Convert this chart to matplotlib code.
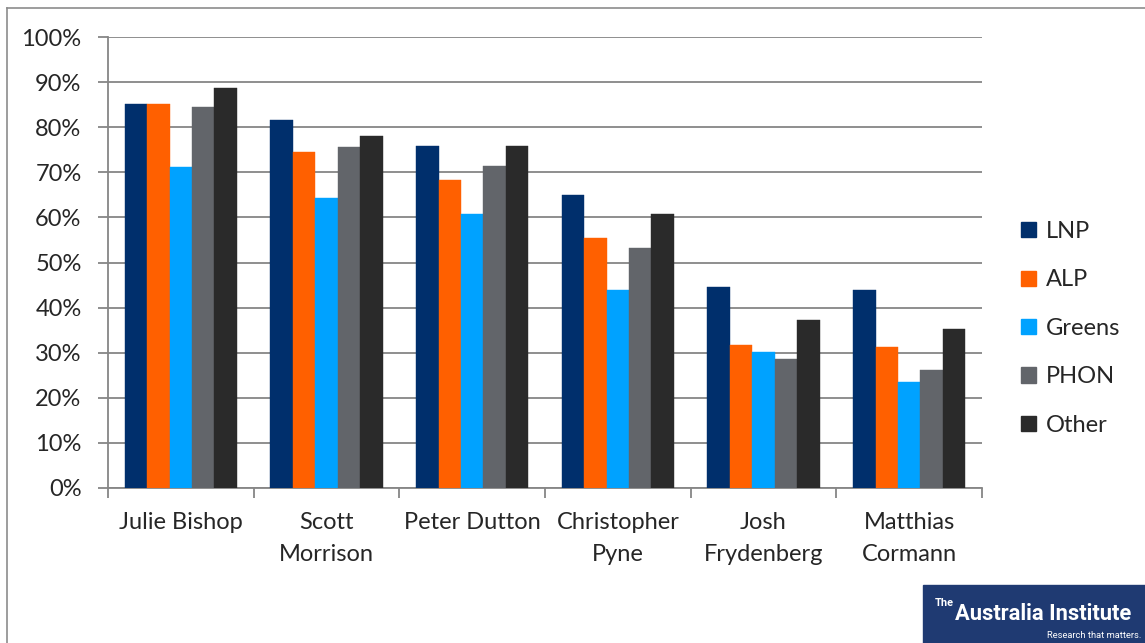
import matplotlib
matplotlib.use("Agg")
import matplotlib.pyplot as plt
import numpy as np
from matplotlib.patches import Rectangle
from matplotlib.lines import Line2D

categories = ["Julie Bishop", "Scott\nMorrison", "Peter Dutton", "Christopher\nPyne",
              "Josh\nFrydenberg", "Matthias\nCormann"]
series = ["LNP", "ALP", "Greens", "PHON", "Other"]
lnp = [85.1, 81.7, 75.9, 65.0, 44.6, 43.9]
alp = [85.1, 74.4, 68.4, 55.4, 31.8, 31.2]
greens = [71.1, 64.2, 60.7, 43.9, 30.1, 23.6]
phon = [84.4, 75.5, 71.3, 53.3, 28.7, 26.2]
other = [88.7, 78.0, 75.9, 60.7, 37.3, 35.3]
values = [lnp, alp, greens, phon, other]
colors = ["#002F6C", "#FF6000", "#00A2FF", "#62656A", "#2A2A2A"]
yticks = list(range(0, 101, 10))

plt.rcParams['font.family'] = ['Lato', 'DejaVu Sans']
FS = 17
W, H = 1145, 643
fig = plt.figure(figsize=(W/100, H/100), dpi=100)
ax = fig.add_axes([108/W, 1-488/H, (982-108)/W, (488-37)/H])

x = np.arange(len(categories))
bw = 0.154
for i, (s, v, c) in enumerate(zip(series, values, colors)):
    ax.bar(x + (i-2)*bw, v, width=bw, color=c, label=s, zorder=3,
           edgecolor=c, linewidth=0.3)

ax.set_xlim(-0.5, len(categories)-0.5)
ax.set_ylim(0, 100)
ax.set_yticks(yticks)
ax.set_yticklabels([f"{t}%" for t in yticks], fontsize=FS, color="#262626")
ax.yaxis.grid(True, color="#868686", linewidth=1.3, zorder=0)
ax.set_axisbelow(True)
for sp in ["top", "right"]:
    ax.spines[sp].set_visible(False)
for sp in ["left", "bottom"]:
    ax.spines[sp].set_color("#868686")
    ax.spines[sp].set_linewidth(1.3)
ax.tick_params(axis='y', length=7, width=1.3, color="#868686", pad=12)
ax.set_xticks(np.arange(-0.5, len(categories)), minor=False)
ax.set_xticklabels([])
ax.tick_params(axis='x', length=7, width=1.3, color="#868686")
for xi, lab in zip(x, categories):
    ax.text(xi, -5.3, lab, ha='center', va='top', fontsize=FS, color="#262626",
            linespacing=1.65, transform=ax.transData)

# legend
handles = [Rectangle((0, 0), 1, 1, color=c) for c in colors]
fig.legend(handles, series, loc='upper left', bbox_to_anchor=(1014/W, 1-214/H),
           frameon=False, fontsize=FS, labelspacing=1.16, handlelength=0.62,
           handleheight=0.62, handletextpad=0.45, labelcolor="#262626",
           borderaxespad=0, borderpad=0.3)

# border
fig.add_artist(Line2D([7/W, 7/W], [0, 1-8/H], color="#8c8c8c", linewidth=1.2,
                      transform=fig.transFigure))
fig.add_artist(Line2D([7/W, 1], [1-8/H, 1-8/H], color="#8c8c8c", linewidth=1.2,
                      transform=fig.transFigure))

# logo
fig.add_artist(Rectangle((923/W, 0), (W-923)/W, 58/H, transform=fig.transFigure,
                         color="#1F3A72", zorder=5))
t_the = fig.text(935/W, 1-606/H, "The", color="white", fontsize=9, fontweight='bold',
                 family=['Roboto', 'DejaVu Sans'], zorder=6, va='baseline')
t_ai = fig.text(955/W, 1-620/H, "Australia Institute", color="white", fontsize=16,
                fontweight='bold', family=['Roboto', 'DejaVu Sans'],
                zorder=6, va='baseline')
t_rs = fig.text(1141/W, 1-638/H, "Research that matters.", color="white", fontsize=8,
                family=['Roboto', 'DejaVu Sans'], zorder=6, ha='right',
                va='baseline')

# fit logo texts to their target widths
fig.canvas.draw()
r = fig.canvas.get_renderer()
for t, target in [(t_the, 19), (t_ai, 176), (t_rs, 95)]:
    w = t.get_window_extent(r).width
    t.set_fontsize(t.get_fontsize() * target / w)

fig.savefig("out.png", dpi=100)
